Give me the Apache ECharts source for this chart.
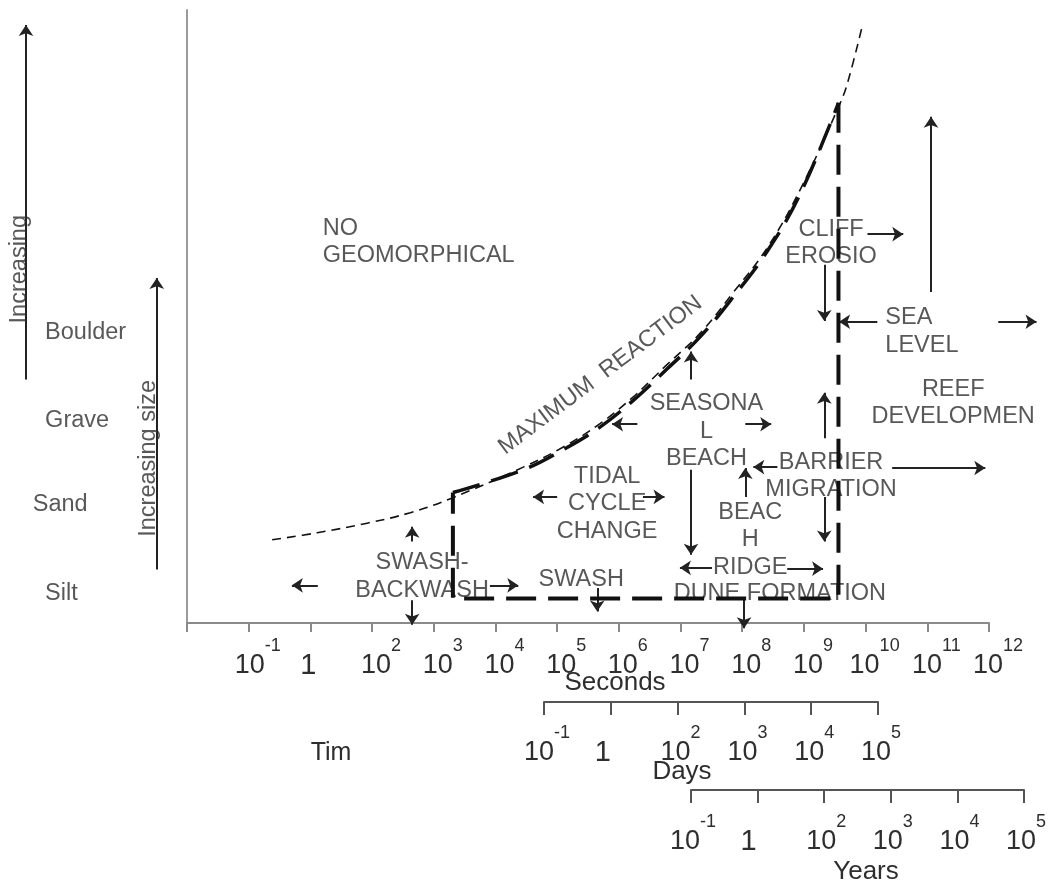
<!DOCTYPE html>
<html><head><meta charset="utf-8">
<script src="https://cdn.jsdelivr.net/npm/echarts@6/dist/echarts.min.js"></script>
<style>html,body{margin:0;padding:0;background:#fff}#c{width:1051px;height:886px}</style>
</head><body><div id="c"></div>
<script>
// ---- data ----
const grainSizes = ['Silt', 'Sand', 'Grave', 'Boulder'];
const grainLevels = [0.34, 1.35, 2.31, 3.32];
const secondsExp = [-1, 0, 2, 3, 4, 5, 6, 7, 8, 9, 10, 11, 12];   // main axis, ticks 1..13
const daysExp = [-1, 0, 2, 3, 4, 5];
const yearsExp = [-1, 0, 2, 3, 4, 5];
const maxReactionCurve = [[1.38,0.95],[2.11,1.03],[2.92,1.14],[3.62,1.26],[4.27,1.42],[5.45,1.78],[6.10,2.01],[6.70,2.28],[7.23,2.58],[7.78,2.95],[8.32,3.31],[8.85,3.77],[9.41,4.29],[9.94,4.95],[10.59,5.94],[10.72,6.20],[10.95,6.83]];
const responseCurve = [[4.31,1.49],[5.45,1.75],[6.10,1.98],[6.70,2.24],[7.23,2.54],[7.78,2.90],[8.32,3.27],[8.85,3.72],[9.41,4.25],[9.94,4.90],[10.56,5.94]];
const responseBox = [[10.56,5.94],[10.56,0.28],[4.31,0.28],[4.31,1.49]];
const processLabels = [
  ['NO\nGEOMORPHICAL', 2.20, 4.35],
  ['MAXIMUM  REACTION', 6.70, 2.83],
  ['SEASONA\nL\nBEACH', 8.42, 2.19],
  ['TIDAL\nCYCLE\nCHANGE', 6.81, 1.36],
  ['SWASH-\nBACKWASH', 3.81, 0.53],
  ['SWASH', 6.39, 0.50],
  ['BEAC\nH\nRIDGE', 9.13, 0.95],
  ['DUNE FORMATION', 9.61, 0.34],
  ['BARRIER\nMIGRATION', 10.44, 1.68],
  ['CLIFF\nEROSIO', 10.44, 4.34],
  ['SEA\nLEVEL', 11.32, 3.33],
  ['REEF\nDEVELOPMEN', 12.42, 2.51]
];
const sideLabels = [['Increasing', -2.72, 4.04], ['Increasing size', -0.62, 1.88]];
const arrows = [
  [[2.12,0.43],[1.70,0.43]], [[3.65,0.93],[3.65,1.10]], [[3.65,0.26],[3.65,-0.02]],
  [[4.91,0.43],[5.37,0.43]], [[6.65,0.40],[6.65,0.13]], [[6.00,1.44],[5.61,1.44]],
  [[7.39,1.44],[7.74,1.44]], [[7.30,2.27],[6.89,2.27]], [[9.05,2.27],[9.47,2.27]],
  [[8.17,2.78],[8.17,3.10]], [[8.17,1.75],[8.17,0.78]], [[8.51,0.63],[7.99,0.63]],
  [[9.73,0.62],[10.31,0.62]], [[9.05,1.44],[9.05,1.77]], [[9.03,0.29],[9.03,-0.06]],
  [[9.57,1.78],[9.18,1.78]], [[11.43,1.77],[12.94,1.77]], [[10.33,2.11],[10.33,2.63]],
  [[10.33,1.44],[10.33,0.93]], [[10.33,4.09],[10.33,3.45]], [[11.03,4.44],[11.61,4.44]],
  [[12.06,3.78],[12.06,5.78]], [[11.19,3.44],[10.57,3.44]], [[13.15,3.44],[13.77,3.44]],
  [[-2.61,2.78],[-2.61,6.83]], [[-0.49,0.61],[-0.49,3.94]]
];

// ---- styling / build ----
const FONT = "'Liberation Sans', Arial, sans-serif";
const TXT = '#2e2e2e';
const leftAligned = ['NO\nGEOMORPHICAL', 'SEA\nLEVEL'];
const rotations = {'MAXIMUM  REACTION': 37};

function powLabel(e) { return e === 0 ? '{one|1}' : '{b|10}{s|' + e + '}'; }
const powRich = {
  b: {fontSize: 27, lineHeight: 58, fontFamily: FONT, color: TXT},
  s: {fontSize: 18, lineHeight: 18, verticalAlign: 'top', fontFamily: FONT, color: TXT},
  one: {fontSize: 29, lineHeight: 58, fontFamily: FONT, color: TXT, padding: [0, 22, 0, 0]}
};
function subAxis(gi, exps, margin, padLeft) {
  return {
    type: 'value', gridIndex: gi, min: 0, max: exps.length - 1, interval: 1,
    axisLine: {show: true, lineStyle: {color: '#555', width: 2}},
    axisTick: {show: true, length: 13, lineStyle: {color: '#555', width: 2}},
    splitLine: {show: false},
    axisLabel: {show: true, margin: margin, padding: [0, 0, 0, padLeft], rich: powRich,
      formatter: v => powLabel(exps[Math.round(v)])}
  };
}

const chart = echarts.init(document.getElementById('c'), null, {renderer: 'canvas'});
const option = {
  backgroundColor: '#fff',
  animation: false,
  textStyle: {fontFamily: FONT},
  grid: [
    {left: 187, right: 62, top: 10, bottom: 263, outerBoundsMode: 'none'},
    {left: 544, width: 334, top: 690, height: 12, outerBoundsMode: 'none'},
    {left: 691, width: 333, top: 778, height: 12, outerBoundsMode: 'none'}
  ],
  xAxis: [
    {
      type: 'value', gridIndex: 0, min: 0, max: 13, interval: 1,
      axisLine: {show: true, lineStyle: {color: '#8a8a8a', width: 2}},
      axisTick: {show: true, length: 9, lineStyle: {color: '#8a8a8a', width: 2}},
      splitLine: {show: false},
      axisLabel: {show: true, margin: 14, padding: [0, 0, 0, 18], rich: powRich,
        formatter: v => v === 0 ? '' : powLabel(secondsExp[Math.round(v) - 1])}
    },
    subAxis(1, daysExp, 22, 6),
    subAxis(2, yearsExp, 23, 4)
  ],
  yAxis: [
    {type: 'value', gridIndex: 0, min: 0, max: 7,
      axisLine: {show: true, lineStyle: {color: '#9a9a9a', width: 2}},
      axisTick: {show: false}, axisLabel: {show: false}, splitLine: {show: false}},
    {type: 'value', gridIndex: 1, show: false},
    {type: 'value', gridIndex: 2, show: false}
  ],
  graphic: [
    {type: 'text', x: 615, y: 683, style: {text: 'Seconds', font: '26px ' + FONT, fill: TXT, align: 'center', verticalAlign: 'middle'}},
    {type: 'text', x: 331, y: 753, style: {text: 'Tim', font: '25px ' + FONT, fill: TXT, align: 'center', verticalAlign: 'middle'}},
    {type: 'text', x: 682, y: 772, style: {text: 'Days', font: '26px ' + FONT, fill: TXT, align: 'center', verticalAlign: 'middle'}},
    {type: 'text', x: 866, y: 872, style: {text: 'Years', font: '26px ' + FONT, fill: TXT, align: 'center', verticalAlign: 'middle'}}
  ],
  series: [
    {type: 'line', xAxisIndex: 0, yAxisIndex: 0, data: maxReactionCurve, smooth: 0.4, symbol: 'none', clip: false,
      lineStyle: {color: '#111', width: 1.6, type: [9, 6]}},
    {type: 'line', xAxisIndex: 0, yAxisIndex: 0, data: responseCurve, smooth: 0.4, symbol: 'none', clip: false,
      lineStyle: {color: '#111', width: 3.5, type: [28, 12]}},
    {type: 'line', xAxisIndex: 0, yAxisIndex: 0, data: responseBox, symbol: 'none', clip: false,
      lineStyle: {color: '#111', width: 4, type: [30, 12]}},
    {type: 'lines', coordinateSystem: 'cartesian2d', xAxisIndex: 0, yAxisIndex: 0, clip: false,
      symbol: ['none', 'arrow'], symbolSize: 11,
      lineStyle: {color: '#222', width: 2, opacity: 1, curveness: 0},
      data: arrows.map(a => ({coords: a}))},
    {type: 'scatter', xAxisIndex: 0, yAxisIndex: 0, symbolSize: 0, clip: false, silent: true,
      label: {show: true, position: 'inside', formatter: '{b}', fontSize: 23.5, lineHeight: 27.5,
        color: TXT, fontFamily: FONT, verticalAlign: 'middle'},
      data: processLabels.map(p => ({name: p[0], value: [p[1], p[2]],
        label: {align: leftAligned.indexOf(p[0]) >= 0 ? 'left' : 'center', rotate: rotations[p[0]] || 0}}))},
    {type: 'scatter', xAxisIndex: 0, yAxisIndex: 0, symbolSize: 0, clip: false, silent: true,
      label: {show: true, position: 'inside', formatter: '{b}', fontSize: 23.5, color: TXT, fontFamily: FONT,
        align: 'left', verticalAlign: 'middle'},
      data: grainSizes.map((g, i) => ({name: g, value: [g === 'Sand' ? -2.50 : -2.30, grainLevels[i]]}))},
    {type: 'scatter', xAxisIndex: 0, yAxisIndex: 0, symbolSize: 0, clip: false, silent: true,
      label: {show: true, position: 'inside', formatter: '{b}', fontSize: 23.5, color: TXT, fontFamily: FONT,
        align: 'center', verticalAlign: 'middle', rotate: 90},
      data: sideLabels.map(s => ({name: s[0], value: [s[1], s[2]]}))}
  ]
};
chart.setOption(option);
</script>
</body></html>
